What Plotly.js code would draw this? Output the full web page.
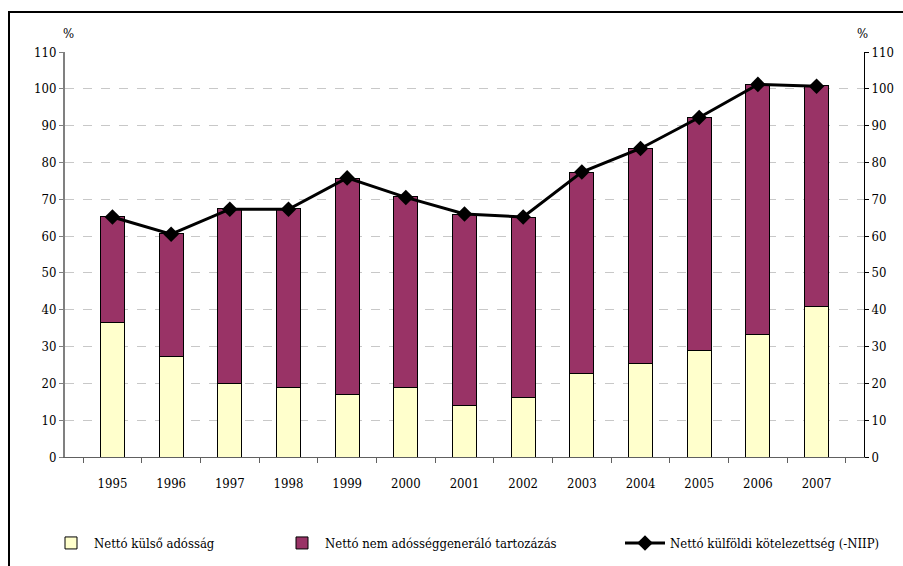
<!DOCTYPE html>
<html>
<head>
<meta charset="utf-8">
<script src="https://cdn.plot.ly/plotly-3.0.1.min.js"></script>
<style>html,body{margin:0;padding:0;background:#fff;}#chart{width:903px;height:566px;}</style>
</head>
<body>
<div id="chart"></div>
<script>
const years = ["1995","1996","1997","1998","1999","2000","2001","2002","2003","2004","2005","2006","2007"];
const nettoKulsoAdossag = [36.5, 27.2, 19.9, 19.0, 16.9, 19.0, 13.9, 16.1, 22.6, 25.5, 28.9, 33.2, 40.8];
const nettoNemAdossag = [28.7, 33.4, 47.5, 48.4, 58.8, 51.7, 52.1, 49.0, 54.8, 58.3, 63.4, 68.0, 60.0];
const nettoKulfoldiKotelezettseg = [65.2, 60.5, 67.3, 67.3, 75.8, 70.5, 66.0, 65.2, 77.4, 83.8, 92.2, 101.2, 100.7];
const seriesNames = ["Nettó külső adósság", "Nettó nem adósséggeneráló tartozázás", "Nettó külföldi kötelezettség (-NIIP)"];

const fontFam = "DejaVu Serif Condensed";

const traces = [
  {type:"bar", x:years, y:nettoKulsoAdossag, name:seriesNames[0],
   marker:{color:"#FFFFCC", line:{color:"#000", width:1}}, legend:"legend"},
  {type:"bar", x:years, y:nettoNemAdossag, name:seriesNames[1],
   marker:{color:"#993366", line:{color:"#000", width:1}}, legend:"legend2"},
  {type:"scatter", mode:"lines+markers", x:years, y:nettoKulfoldiKotelezettseg, name:seriesNames[2],
   line:{color:"#000", width:3}, marker:{symbol:"diamond", size:12, color:"#000"}, legend:"legend3"},
  {type:"scatter", x:years, y:nettoKulfoldiKotelezettseg, yaxis:"y2", mode:"none", showlegend:false, hoverinfo:"skip"}
];

const legBase = {orientation:"h", xref:"container", yref:"container", yanchor:"middle",
  font:{family:fontFam, size:13, color:"#000"}, bgcolor:"rgba(0,0,0,0)", itemwidth:36};

const layout = {
  width:903, height:566,
  margin:{l:65, r:39, t:52, b:109},
  paper_bgcolor:"#fff", plot_bgcolor:"#fff",
  barmode:"stack", bargap:0.59,
  font:{family:fontFam, size:12, color:"#000"},
  xaxis:{type:"category", tickson:"boundaries", ticks:"outside", ticklen:5, tickcolor:"#606060",
    showline:true, linecolor:"#606060", linewidth:1, showgrid:false, ticklabelstandoff:14,
    tickfont:{family:fontFam, size:13}},
  yaxis:{range:[0,110], dtick:10, ticks:"outside", ticklen:4, tickcolor:"#808080",
    showline:true, linecolor:"#808080", linewidth:2, showgrid:true, gridcolor:"#c8c8c8", griddash:"dash",
    zeroline:false, tickfont:{family:fontFam, size:13}, fixedrange:true},
  yaxis2:{range:[0,110], dtick:10, overlaying:"y", side:"right", ticks:"outside", ticklen:4, tickcolor:"#000",
    showline:true, linecolor:"#000", linewidth:1, showgrid:false, zeroline:false,
    tickfont:{family:fontFam, size:13}},
  showlegend:true,
  legend: Object.assign({}, legBase, {x:48/903, y:(566-543)/566}),
  legend2: Object.assign({}, legBase, {x:279/903, y:(566-543)/566}),
  legend3: Object.assign({}, legBase, {x:620/903, y:(566-543)/566, itemwidth:40}),
  annotations:[
    {text:"%", xref:"paper", yref:"paper", x:(68-65)/799, y:(457-34)/405, xanchor:"center", yanchor:"middle", showarrow:false, font:{family:fontFam, size:13}},
    {text:"%", xref:"paper", yref:"paper", x:(862-65)/799, y:(457-34)/405, xanchor:"center", yanchor:"middle", showarrow:false, font:{family:fontFam, size:13}}
  ],
  shapes:[
    {type:"rect", xref:"paper", yref:"paper", x0:(9-65)/799, x1:1.2, y0:-0.4, y1:(457-12)/405,
     line:{color:"#000", width:2}, fillcolor:"rgba(0,0,0,0)", layer:"above"}
  ]
};

Plotly.newPlot("chart", traces, layout, {displayModeBar:false, staticPlot:true});
</script>
</body>
</html>
